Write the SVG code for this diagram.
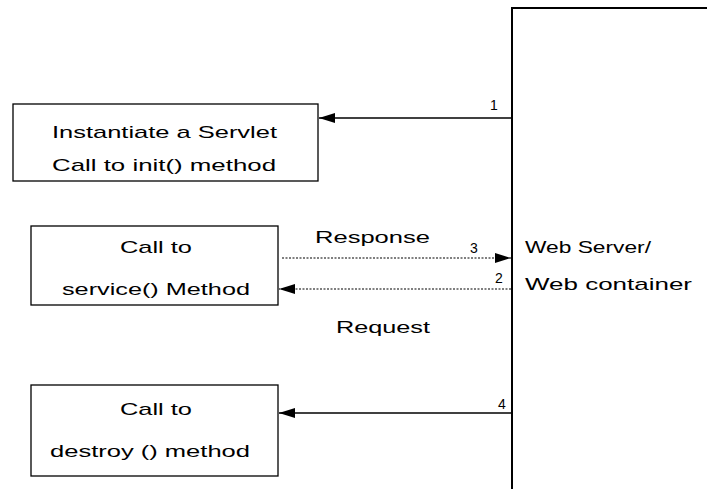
<svg xmlns="http://www.w3.org/2000/svg" width="707" height="489" viewBox="0 0 707 489">
<defs>
<style>
.box{fill:#fff;stroke:#000;stroke-width:1.3}
.t{font-family:"Liberation Sans",Arial,sans-serif;font-size:17px;fill:#000}
.n{font-family:"Liberation Sans",Arial,sans-serif;font-size:14px;fill:#000}
.solid{stroke:#000;stroke-width:1.5;fill:none}
.dot{stroke:#000;stroke-width:1.2;fill:none;stroke-dasharray:2 1.5}
</style>
<marker id="ah" markerWidth="16" markerHeight="10" refX="16" refY="5" orient="auto" markerUnits="userSpaceOnUse">
<path d="M0,0 L16,5 L0,10 Z" fill="#000"/>
</marker>
</defs>
<rect width="707" height="489" fill="#fff"/>
<g id="web-server">
<path d="M512,489 V8 H707" fill="none" stroke="#000" stroke-width="2"/>
<text class="t" x="525" y="253" textLength="126" lengthAdjust="spacingAndGlyphs">Web Server/</text>
<text class="t" x="525" y="290" textLength="167" lengthAdjust="spacingAndGlyphs">Web container</text>
</g>
<g id="init">
<rect class="box" x="13" y="104" width="305" height="77"/>
<text class="t" x="52" y="138" textLength="225" lengthAdjust="spacingAndGlyphs">Instantiate a Servlet</text>
<text class="t" x="52" y="171" textLength="224" lengthAdjust="spacingAndGlyphs">Call to init() method</text>
</g>
<g id="service">
<rect class="box" x="31" y="226" width="247" height="79"/>
<text class="t" x="120" y="253" textLength="72" lengthAdjust="spacingAndGlyphs">Call to</text>
<text class="t" x="62" y="295" textLength="188" lengthAdjust="spacingAndGlyphs">service() Method</text>
</g>
<g id="destroy">
<rect class="box" x="31" y="385" width="247" height="91"/>
<text class="t" x="120" y="415" textLength="72" lengthAdjust="spacingAndGlyphs">Call to</text>
<text class="t" x="50" y="457" textLength="200" lengthAdjust="spacingAndGlyphs">destroy () method</text>
</g>
<g id="connectors">
<line class="solid" x1="511" y1="118" x2="319" y2="118" marker-end="url(#ah)"/>
<text class="n" x="490" y="110">1</text>
<line class="dot" x1="282" y1="258" x2="511" y2="258" marker-end="url(#ah)"/>
<text class="n" x="470" y="253">3</text>
<text class="t" x="315" y="243" textLength="115" lengthAdjust="spacingAndGlyphs">Response</text>
<line class="dot" x1="511" y1="289" x2="279" y2="289" marker-end="url(#ah)"/>
<text class="n" x="495" y="283">2</text>
<text class="t" x="336" y="333" textLength="94" lengthAdjust="spacingAndGlyphs">Request</text>
<line class="solid" x1="511" y1="413" x2="279" y2="413" marker-end="url(#ah)"/>
<text class="n" x="498" y="409">4</text>
</g>
</svg>
